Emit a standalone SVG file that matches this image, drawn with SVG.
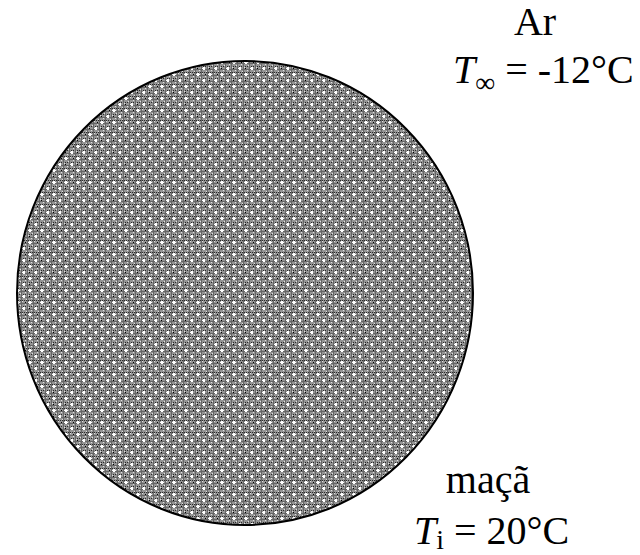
<svg xmlns="http://www.w3.org/2000/svg" width="640" height="555" viewBox="0 0 640 555">
<style>
text{font-family:"Liberation Serif","Times New Roman",serif;font-size:40px;fill:#000}
.it{font-style:italic}
.sub{font-size:28px}
</style>
<defs>
<pattern id="tex" width="12" height="12" patternUnits="userSpaceOnUse">
<rect width="12" height="12" fill="#959595"/>
<path d="M0 0h1v1H0zM2 0h1v1H2zM4 0h1v1H4zM6 0h1v1H6zM8 0h1v1H8zM10 0h1v1h-1zM1 6h1v1H1zM3 6h1v1H3zM5 6h1v1H5zM7 6h1v1H7zM9 6h1v1H9zM11 6h1v1h-1z" fill="#2a2a2a"/>
<path d="M0 3h12v1H0zM0 9h12v1H0zM3 0h1v12H3zM9 0h1v12H9z" fill="#666"/>
<path d="M1 2h1v1H1zM7 2h1v1H7zM5 8h1v1H5zM11 8h1v1h-1z" fill="#000"/>
<path d="M5 1h2v1H5zM4 2h4v1H4zM5 3h2v1H5zM11 7h1v1h-1zM0 7h1v1H0zM10 8h2v1h-2zM0 8h1v1H0zM11 9h1v1h-1zM0 9h1v1H0z" fill="#fff"/>
<path d="M1 4h1v1H1zM7 10h1v1H7zM2 11h1v1H2zM8 5h1v1H8zM10 1h1v1h-1zM4 7h1v1H4z" fill="#e0e0e0"/>
</pattern>
</defs>
<g id="apple">
<ellipse cx="245" cy="293" rx="228" ry="232" fill="url(#tex)" stroke="#000" stroke-width="2"/>
</g>
<g id="air-label">
<text x="535" y="35" text-anchor="middle">Ar</text>
<text x="453" y="83"><tspan class="it">T</tspan><tspan class="sub" dy="9">∞</tspan><tspan dy="-9"> = -12°C</tspan></text>
</g>
<g id="apple-label">
<text x="488" y="493" text-anchor="middle">maçã</text>
<text x="414" y="544"><tspan class="it">T</tspan><tspan class="sub" dy="5">i</tspan><tspan dy="-5"> = 20°C</tspan></text>
</g>
</svg>
